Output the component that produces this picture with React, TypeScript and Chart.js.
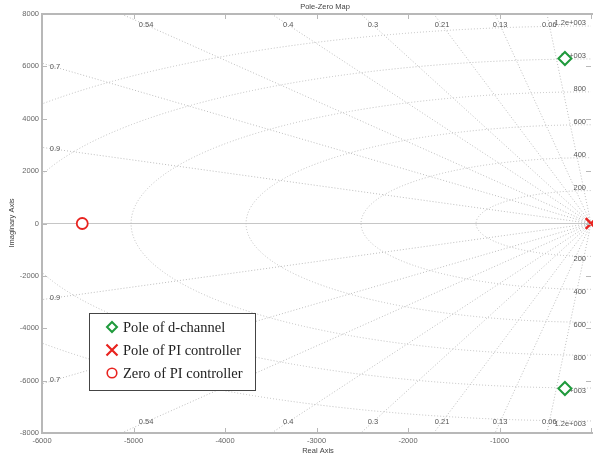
import { useEffect, useRef } from 'react';
import { Chart, registerables } from 'chart.js';

Chart.register(...registerables);

// Pole/zero locations (real part, imaginary part) in rad/s
const dChannelPoleRe = [-285, -285];
const dChannelPoleIm = [6300, -6300];
const piPoleRe = [0];
const piPoleIm = [0];
const piZeroRe = [-5560];
const piZeroIm = [0];

// Axes
const xTicks = [-6000, -5000, -4000, -3000, -2000, -1000, 0];
const yTicks = [8000, 6000, 4000, 2000, 0, -2000, -4000, -6000, -8000];

// s-plane grid: damping ratios and natural frequencies (Hz)
const dampingRatios = [0.06, 0.13, 0.21, 0.3, 0.4, 0.54, 0.7, 0.9];
const dampingLabels = ['0.06', '0.13', '0.21', '0.3', '0.4', '0.54', '0.7', '0.9'];
const natFreqHz = [200, 400, 600, 800, 1000, 1200];
const natFreqLabels = ['200', '400', '600', '800', '1e+003', '1.2e+003'];

const legendLabels = ['Pole of d-channel', 'Pole of PI controller', 'Zero of PI controller'];

const GREEN = '#1f9a3c';
const RED = '#e8231f';
const GRID = '#bdbdbd';
const AXIS = '#b8b8b8';
const TEXT = '#666';
const SMALL_FONT = '7.5px "Liberation Sans", Arial, sans-serif';

const toPoints = (re: number[], im: number[]) => re.map((r, i) => ({ x: r, y: im[i] }));

const sgridPlugin = {
  id: 'sgrid',
  beforeDatasetsDraw(chart: any) {
    const { ctx, chartArea: a, scales } = chart;
    const x = scales.x;
    const y = scales.y;
    const ox = x.getPixelForValue(0);
    const oy = y.getPixelForValue(0);
    const kx = Math.abs(x.getPixelForValue(-1000) - ox) / 1000;
    const ky = Math.abs(y.getPixelForValue(1000) - oy) / 1000;

    ctx.save();
    ctx.beginPath();
    ctx.rect(a.left, a.top, a.right - a.left, a.bottom - a.top);
    ctx.clip();

    // real axis
    ctx.strokeStyle = '#c6c6c6';
    ctx.lineWidth = 1.2;
    ctx.beginPath();
    ctx.moveTo(a.left, oy);
    ctx.lineTo(ox, oy);
    ctx.stroke();

    ctx.strokeStyle = GRID;
    ctx.lineWidth = 1;
    ctx.setLineDash([1, 2]);

    // constant natural frequency semicircles
    natFreqHz.forEach((f) => {
      const w = 2 * Math.PI * f;
      ctx.beginPath();
      ctx.ellipse(ox, oy, w * kx, w * ky, 0, Math.PI / 2, (3 * Math.PI) / 2);
      ctx.stroke();
    });

    // constant damping ratio rays
    const R = 20000;
    dampingRatios.forEach((z) => {
      const s = Math.sqrt(1 - z * z);
      [1, -1].forEach((sign) => {
        ctx.beginPath();
        ctx.moveTo(ox, oy);
        ctx.lineTo(ox - z * R * kx, oy - sign * s * R * ky);
        ctx.stroke();
      });
    });
    ctx.restore();

    // grid labels
    ctx.save();
    ctx.font = SMALL_FONT;
    ctx.fillStyle = '#555';
    ctx.textAlign = 'center';
    ctx.textBaseline = 'middle';
    const topY = a.top + 11;
    const leftX = a.left + 13;
    dampingRatios.forEach((z, i) => {
      const s = Math.sqrt(1 - z * z);
      const tTop = (oy - topY) / (s * ky);
      const tLeft = (ox - leftX) / (z * kx);
      const t = Math.min(tTop, tLeft);
      const px = ox - z * kx * t;
      [1, -1].forEach((sign) => {
        const py = oy - sign * s * ky * t;
        ctx.fillText(dampingLabels[i], px, py);
      });
    });

    ctx.textAlign = 'right';
    natFreqHz.forEach((f, i) => {
      const w = 2 * Math.PI * f;
      ctx.textBaseline = 'bottom';
      ctx.fillText(natFreqLabels[i], a.right - 5, y.getPixelForValue(w) + 1);
      ctx.textBaseline = 'top';
      ctx.fillText(natFreqLabels[i], a.right - 5, y.getPixelForValue(-w) - 1);
    });
    ctx.restore();
  },
  afterDraw(chart: any) {
    const { ctx, chartArea: a, scales } = chart;
    const x = scales.x;
    const y = scales.y;
    ctx.save();

    // inward tick marks
    ctx.strokeStyle = AXIS;
    ctx.lineWidth = 1;
    ctx.beginPath();
    xTicks.forEach((v) => {
      const px = Math.round(x.getPixelForValue(v)) + 0.5;
      ctx.moveTo(px, a.bottom);
      ctx.lineTo(px, a.bottom - 5);
      ctx.moveTo(px, a.top);
      ctx.lineTo(px, a.top + 5);
    });
    yTicks.forEach((v) => {
      const py = Math.round(y.getPixelForValue(v)) + 0.5;
      ctx.moveTo(a.left, py);
      ctx.lineTo(a.left + 5, py);
      ctx.moveTo(a.right, py);
      ctx.lineTo(a.right - 5, py);
    });
    ctx.stroke();

    // axis box
    ctx.lineWidth = 2;
    ctx.beginPath();
    ctx.moveTo(a.left, a.top);
    ctx.lineTo(a.right + 4, a.top);
    ctx.moveTo(a.left, a.top - 1);
    ctx.lineTo(a.left, a.bottom);
    ctx.lineTo(a.right + 4, a.bottom);
    ctx.stroke();

    // titles
    ctx.fillStyle = '#444';
    ctx.font = SMALL_FONT;
    ctx.textAlign = 'center';
    ctx.textBaseline = 'middle';
    ctx.fillText('Pole-Zero Map', 325, 7);
    ctx.fillText('Real Axis', 318, 451);
    ctx.save();
    ctx.translate(12, 223);
    ctx.rotate(-Math.PI / 2);
    ctx.fillText('Imaginary Axis', 0, 0);
    ctx.restore();

    // legend
    const bx = 89.5;
    const by = 313.5;
    ctx.fillStyle = '#fff';
    ctx.fillRect(bx, by, 166, 77);
    ctx.strokeStyle = '#444';
    ctx.lineWidth = 1;
    ctx.strokeRect(bx, by, 166, 77);

    const mx = 112;
    const rows = [327, 350, 373];
    // diamond
    ctx.strokeStyle = GREEN;
    ctx.lineWidth = 2;
    ctx.beginPath();
    ctx.moveTo(mx, rows[0] - 5);
    ctx.lineTo(mx + 5, rows[0]);
    ctx.lineTo(mx, rows[0] + 5);
    ctx.lineTo(mx - 5, rows[0]);
    ctx.closePath();
    ctx.stroke();
    // cross
    ctx.strokeStyle = RED;
    ctx.lineWidth = 2.2;
    ctx.beginPath();
    ctx.moveTo(mx - 5.5, rows[1] - 5.5);
    ctx.lineTo(mx + 5.5, rows[1] + 5.5);
    ctx.moveTo(mx + 5.5, rows[1] - 5.5);
    ctx.lineTo(mx - 5.5, rows[1] + 5.5);
    ctx.stroke();
    // circle
    ctx.lineWidth = 1.6;
    ctx.beginPath();
    ctx.arc(mx, rows[2], 4.8, 0, Math.PI * 2);
    ctx.stroke();

    ctx.fillStyle = '#222';
    ctx.font = '14.5px "Liberation Serif", "Times New Roman", serif';
    ctx.textAlign = 'left';
    ctx.textBaseline = 'middle';
    legendLabels.forEach((t, i) => ctx.fillText(t, 123, rows[i] + 1));
    ctx.restore();
  },
};

export default function App() {
  const canvasRef = useRef<HTMLCanvasElement | null>(null);

  useEffect(() => {
    const canvas = canvasRef.current;
    if (!canvas) return;
    const chart = new Chart(canvas, {
      type: 'scatter',
      data: {
        datasets: [
          {
            label: legendLabels[0],
            data: toPoints(dChannelPoleRe, dChannelPoleIm),
            pointStyle: 'rectRot',
            pointRadius: 6.5,
            borderColor: GREEN,
            backgroundColor: '#fff',
            borderWidth: 2,
          },
          {
            label: 'pole marker',
            data: toPoints(dChannelPoleRe, dChannelPoleIm),
            pointStyle: 'crossRot',
            pointRadius: 2.5,
            borderColor: '#6464ff',
            borderWidth: 1,
          },
          {
            label: legendLabels[1],
            data: toPoints(piPoleRe, piPoleIm),
            pointStyle: 'crossRot',
            pointRadius: 7.5,
            borderColor: RED,
            borderWidth: 2.5,
            clip: false,
          },
          {
            label: legendLabels[2],
            data: toPoints(piZeroRe, piZeroIm),
            pointStyle: 'circle',
            pointRadius: 5.5,
            borderColor: RED,
            backgroundColor: '#fff',
            borderWidth: 1.8,
          },
        ] as any,
      },
      options: {
        responsive: false,
        animation: false,
        devicePixelRatio: 1,
        events: [],
        layout: { autoPadding: false, padding: { top: 14, right: 2, left: 0, bottom: 0 } },
        plugins: {
          legend: { display: false },
          tooltip: { enabled: false },
          title: { display: false },
        },
        scales: {
          x: {
            type: 'linear',
            min: -6000,
            max: 0,
            afterBuildTicks: (s: any) => {
              s.ticks = xTicks.map((v) => ({ value: v }));
            },
            afterFit: (s: any) => {
              s.height = 25;
              s.paddingLeft = 0;
              s.paddingRight = 0;
            },
            ticks: {
              autoSkip: false,
              maxRotation: 0,
              padding: 3,
              color: TEXT,
              font: { family: '"Liberation Sans", Arial, sans-serif', size: 7.5 },
              callback: (v: any) => (Number(v) === 0 ? '' : String(v)),
            },
            grid: { display: false, drawTicks: false },
            border: { display: false },
          },
          y: {
            type: 'linear',
            min: -8000,
            max: 8000,
            afterBuildTicks: (s: any) => {
              s.ticks = yTicks.map((v) => ({ value: v }));
            },
            afterFit: (s: any) => {
              s.width = 42;
              s.paddingTop = 0;
              s.paddingBottom = 0;
            },
            ticks: {
              autoSkip: false,
              padding: 3,
              color: TEXT,
              font: { family: '"Liberation Sans", Arial, sans-serif', size: 7.5 },
              callback: (v: any) => String(v),
            },
            grid: { display: false, drawTicks: false },
            border: { display: false },
          },
        },
      } as any,
      plugins: [sgridPlugin],
    });
    return () => chart.destroy();
  }, []);

  return (
    <div style={{ position: 'absolute', left: 0, top: 0, width: 593, height: 458, background: '#fff' }}>
      <canvas ref={canvasRef} width={593} height={458} style={{ display: 'block' }} />
    </div>
  );
}
